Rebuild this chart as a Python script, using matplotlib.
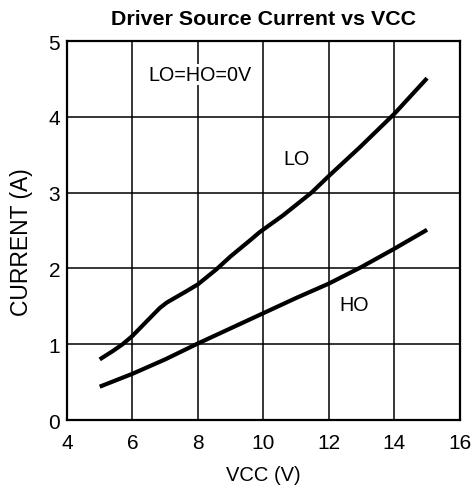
import matplotlib
matplotlib.use("Agg")
import matplotlib.pyplot as plt
import numpy as np

plt.rcParams['font.family'] = ['Liberation Sans', 'DejaVu Sans']

# LO curve (source current, LO output)
vcc_lo = [5.0, 5.4, 5.7, 6.0, 6.43, 6.84, 7.05, 7.25, 7.65, 8.0, 8.57, 9.0,
          9.59, 9.89, 10.6, 11.47, 12.0, 12.95, 14.0, 15.0]
cur_lo = [0.80, 0.91, 1.00, 1.11, 1.30, 1.48, 1.55, 1.60, 1.70, 1.79, 1.99, 2.16,
          2.37, 2.48, 2.70, 3.00, 3.22, 3.60, 4.04, 4.51]

# HO curve
vcc_ho = [5.0, 6.0, 7.0, 8.0, 9.0, 10.0, 11.0, 12.0, 13.0, 14.0, 15.0]
cur_ho = [0.44, 0.61, 0.80, 1.01, 1.21, 1.41, 1.61, 1.80, 2.02, 2.26, 2.51]

xticks = [4, 6, 8, 10, 12, 14, 16]
yticks = [0, 1, 2, 3, 4, 5]

fig = plt.figure(figsize=(4.75, 4.89), dpi=100)
ax = fig.add_axes([0.141, 0.139, 0.827, 0.775])

ax.plot(vcc_lo, cur_lo, color='black', linewidth=3, solid_capstyle='butt',
        solid_joinstyle='round')
ax.plot(vcc_ho, cur_ho, color='black', linewidth=3, solid_capstyle='butt',
        solid_joinstyle='round')

ax.set_xlim(4, 16)
ax.set_ylim(0, 5)
ax.set_xticks(xticks)
ax.set_yticks(yticks)
ax.tick_params(length=0, labelsize=15)
ax.tick_params(axis='x', pad=9)
ax.tick_params(axis='y', pad=5)
ax.grid(True, color='black', linewidth=1.1)
for s in ax.spines.values():
    s.set_linewidth(1.6)

ax.set_xlabel('VCC (V)', fontsize=14.5, labelpad=10)
ax.set_ylabel('CURRENT (A)', fontsize=16.5, va='center')
ax.yaxis.set_label_coords(-0.1145, 0.472)
ax.set_title('Driver Source Current vs VCC', fontsize=15.4, fontweight='bold', pad=12)

ax.text(8.06, 4.56, 'LO=HO=0V', fontsize=14.2, ha='center', va='center',
        bbox=dict(facecolor='white', edgecolor='none', pad=1))
ax.text(11.0, 3.45, 'LO', fontsize=14.2, ha='center', va='center')
ax.text(12.76, 1.52, 'HO', fontsize=14.2, ha='center', va='center')

fig.savefig('out.png', dpi=100)
